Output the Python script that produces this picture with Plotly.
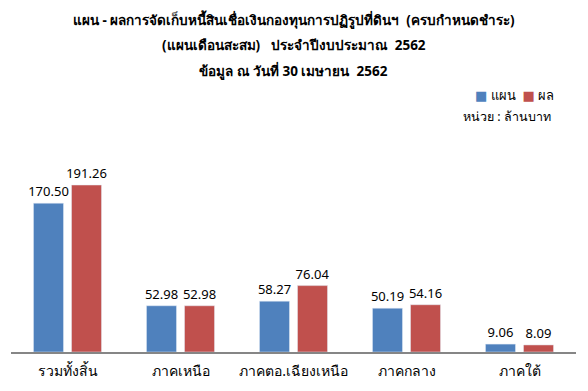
import plotly.graph_objects as go

categories = ["รวมทั้งสิ้น", "ภาคเหนือ", "ภาคตอ.เฉียงเหนือ", "ภาคกลาง", "ภาคใต้"]
plan_values = [170.50, 52.98, 58.27, 50.19, 9.06]
result_values = [191.26, 52.98, 76.04, 54.16, 8.09]
series_names = ["แผน", "ผล"]
series_colors = ["#4F81BD", "#C0504D"]
title_lines = [
    "แผน - ผลการจัดเก็บหนี้สินเชื่อเงินกองทุนการปฏิรูปที่ดินฯ  (ครบกำหนดชำระ)",
    "(แผนเดือนสะสม)   ประจำปีงบประมาณ  2562",
    "ข้อมูล ณ วันที่ 30 เมษายน  2562",
]
unit_text = "หน่วย : ล้านบาท"

FONT = "Tahoma, Noto Sans, DejaVu Sans, sans-serif"

fig = go.Figure()
for name, vals, col in zip(series_names, [plan_values, result_values], series_colors):
    fig.add_trace(go.Bar(
        x=categories, y=vals, name=name,
        marker_color=col,
        text=[f"{v:.2f}" for v in vals], textposition="outside",
        constraintext="none",
        textfont=dict(size=13, color="#000000", family=FONT), cliponaxis=False,
        showlegend=False,
    ))

annotations = []
for txt, yp in zip(title_lines, [1.5, 1.383, 1.27]):
    annotations.append(dict(
        text=f"<b>{txt}</b>", x=0.5, y=yp, xref="paper", yref="paper",
        xanchor="center", yanchor="middle", showarrow=False,
        font=dict(size=13.5, color="#000000", family=FONT),
    ))
legend_text = "  ".join(
    f'<span style="color:{c}">■</span> {n}' for n, c in zip(series_names, series_colors)
)
annotations.append(dict(
    text=legend_text, x=0.965, y=1.158, xref="paper", yref="paper",
    xanchor="right", yanchor="middle", showarrow=False,
    font=dict(size=13, color="#000000", family=FONT),
))
annotations.append(dict(
    text=unit_text, x=0.959, y=1.063, xref="paper", yref="paper",
    xanchor="right", yanchor="middle", showarrow=False,
    font=dict(size=12.5, color="#000000", family=FONT),
))

fig.update_layout(
    width=588, height=391,
    margin=dict(l=11, r=12, t=130, b=39),
    paper_bgcolor="white", plot_bgcolor="white",
    barmode="group", bargap=0.327, bargroupgap=0.21,
    showlegend=False,
    annotations=annotations,
    font=dict(family=FONT, color="#000000"),
)
fig.update_xaxes(showline=True, linecolor="#868686", linewidth=1.5, ticks="",
                 tickfont=dict(size=14, color="#000000", family=FONT),
                 ticklabelstandoff=5, showgrid=False, automargin=False)
fig.update_yaxes(range=[0, 254.3], visible=False, showgrid=False, zeroline=False,
                 automargin=False)

fig.write_html("out.html", config={"displayModeBar": False},
               post_script="document.body.style.margin='0';document.body.style.overflow='hidden';")
